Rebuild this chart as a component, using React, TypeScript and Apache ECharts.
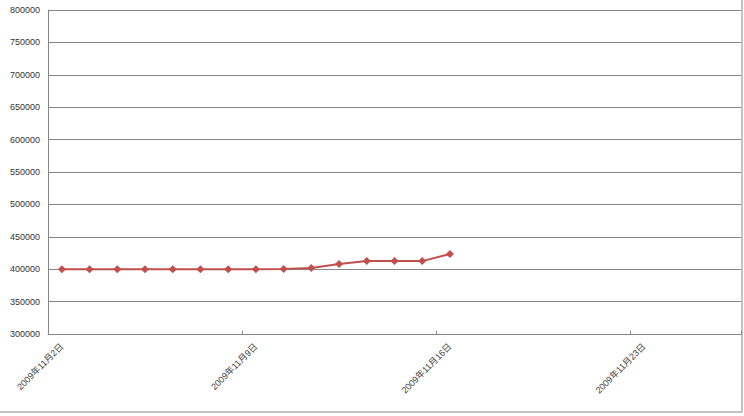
import React, { useEffect, useRef } from "react";
import * as echarts from "echarts";

const categories: string[] = [
  "2009-11-02", "2009-11-03", "2009-11-04", "2009-11-05", "2009-11-06",
  "2009-11-07", "2009-11-08", "2009-11-09", "2009-11-10", "2009-11-11",
  "2009-11-12", "2009-11-13", "2009-11-14", "2009-11-15", "2009-11-16",
  "2009-11-17", "2009-11-18", "2009-11-19", "2009-11-20", "2009-11-21",
  "2009-11-22", "2009-11-23", "2009-11-24", "2009-11-25", "2009-11-26",
];

const values: (number | null)[] = [
  400000, 400000, 400000, 400000, 400000, 400000, 400000, 400000,
  400500, 402000, 408000, 412500, 412500, 412500, 423500,
  null, null, null, null, null, null, null, null, null, null,
];

const yMin = 300000;
const yMax = 800000;
const yStep = 50000;

function fmtDate(s: string): string {
  const [y, m, d] = s.split("-").map((v) => parseInt(v, 10));
  return `${y}年${m}月${d}日`;
}

export default function App() {
  const ref = useRef<HTMLDivElement>(null);
  useEffect(() => {
    if (!ref.current) return;
    const chart = echarts.init(ref.current, null, { renderer: "svg" });
    chart.setOption({
      animation: false,
      backgroundColor: "#ffffff",
      grid: { left: 48, top: 10, right: 3, bottom: 82, containLabel: false },
      xAxis: {
        type: "category",
        data: categories,
        boundaryGap: true,
        axisLine: { show: true, lineStyle: { color: "#868686", width: 1 } },
        axisTick: { show: true, inside: true, length: 3, interval: 6, alignWithLabel: false, lineStyle: { color: "#868686" } },
        axisLabel: {
          interval: 6,
          rotate: 45,
          margin: 11,
          fontSize: 9,
          color: "#444",
          fontFamily: "Liberation Sans, 'Noto Sans CJK SC', sans-serif",
          formatter: (v: string) => fmtDate(v),
        },
        splitLine: { show: false },
      },
      yAxis: {
        type: "value",
        min: yMin,
        max: yMax,
        interval: yStep,
        axisLine: { show: true, lineStyle: { color: "#868686", width: 1 } },
        axisTick: { show: false },
        axisLabel: {
          margin: 8,
          fontSize: 9,
          color: "#333",
          fontFamily: "Liberation Sans, sans-serif",
          formatter: (v: number) => String(v),
        },
        splitLine: { show: true, lineStyle: { color: "#868686", width: 1 } },
      },
      series: [
        {
          type: "line",
          data: values,
          connectNulls: false,
          symbol: "diamond",
          symbolSize: 8,
          lineStyle: { color: "#c0504d", width: 2 },
          itemStyle: { color: "#c0504d" },
        },
      ],
      graphic: [
        { type: "line", shape: { x1: 742, y1: 0, x2: 742, y2: 412 }, style: { stroke: "#868686", lineWidth: 1 } },
        { type: "line", shape: { x1: 0, y1: 412, x2: 742, y2: 412 }, style: { stroke: "#868686", lineWidth: 1 } },
      ],
    });
    return () => chart.dispose();
  }, []);
  return (
    <div
      ref={ref}
      style={{ position: "fixed", left: 0, top: 0, width: 744, height: 416 }}
    />
  );
}
